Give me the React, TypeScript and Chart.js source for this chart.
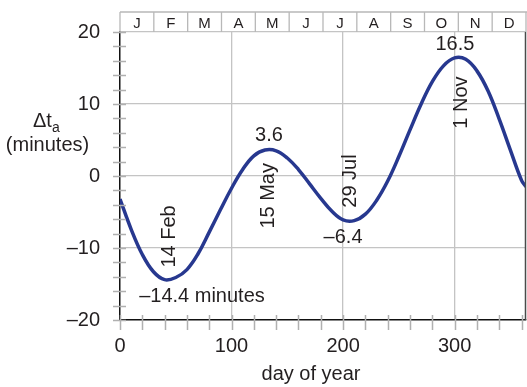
import { useEffect, useRef } from "react";
import { Chart, registerables } from "chart.js";

Chart.register(...registerables);

// ---- data ----
const days = [0, 10, 20, 30, 40, 50, 60, 70, 80, 90, 100, 110, 120, 130, 140, 150, 160, 170, 180, 190, 200, 210, 220, 230, 240, 250, 260, 270, 280, 290, 300, 310, 320, 330, 340, 350, 360, 364];
const deltaT = [-3.2, -7.4, -10.9, -13.3, -14.4, -14.1, -13.0, -10.8, -7.8, -4.7, -1.7, 0.9, 2.8, 3.6, 3.5, 2.5, 0.9, -1.1, -3.1, -4.9, -6.1, -6.2, -5.3, -3.4, -0.7, 2.7, 6.4, 10.0, 13.1, 15.3, 16.4, 16.2, 14.6, 11.8, 7.9, 3.6, -0.6, -1.5];
const months = ["J", "F", "M", "A", "M", "J", "J", "A", "S", "O", "N", "D"];
const xTickValues = [0, 100, 200, 300];
const yTickValues = [-20, -10, 0, 10, 20];
const xMinorTicks = [0, 20, 40, 60, 80, 100, 120, 140, 160, 180, 200, 220, 240, 260, 280, 300, 320, 340, 360];
const yMinorTicks = [-20, -18, -16, -14, -12, -10, -8, -6, -4, -2, 0, 2, 4, 6, 8, 10, 12, 14, 16, 18, 20];
const noteTexts = ["16.5", "1 Nov", "3.6", "15 May", "29 Jul", "–6.4", "14 Feb", "–14.4 minutes"];
const noteDays = [300.3, 304.8, 133.6, 131.8, 205.3, 200, 43, 73.5];
const noteValues = [18.5, 10.2, 5.8, -2.75, -0.7, -8.3, -8.4, -16.55];
const noteRotated = [false, true, false, true, true, false, true, false];

const FONT = "'Liberation Sans', Arial, Helvetica, sans-serif";
const TEXT = "#231f20";
const GRID = "#c4c4c4";
const TICK = "#b0b0b0";
const CURVE = "#27388f";

const dash = (v: number | string) => String(v).replace("-", "–");

const decorPlugin = {
  id: "decor",
  afterDatasetsDraw(chart: any) {
    const ctx = chart.ctx;
    const { left, right, top, bottom } = chart.chartArea;
    const xs = chart.scales.x;
    const ys = chart.scales.y;
    ctx.save();

    // minor ticks crossing axes
    ctx.strokeStyle = TICK;
    ctx.lineWidth = 1.5;
    ctx.beginPath();
    xMinorTicks.forEach((d) => {
      const px = Math.round(xs.getPixelForValue(d)) + 0.5;
      ctx.moveTo(px, bottom - 5);
      ctx.lineTo(px, bottom + 10);
    });
    yMinorTicks.forEach((v) => {
      const py = Math.round(ys.getPixelForValue(v)) + 0.5;
      ctx.moveTo(left - 7, py);
      ctx.lineTo(left + 6, py);
    });
    ctx.stroke();

    // right border
    ctx.strokeStyle = "#4a4a4a";
    ctx.lineWidth = 1.5;
    ctx.beginPath();
    ctx.moveTo(right - 0.5, top);
    ctx.lineTo(right - 0.5, bottom);
    ctx.stroke();

    // month strip
    const stripTop = top - 20;
    ctx.strokeStyle = "#b8b8b8";
    ctx.lineWidth = 1.3;
    ctx.beginPath();
    ctx.moveTo(left, stripTop);
    ctx.lineTo(right + 1, stripTop);
    const w = (right - left) / 12;
    for (let i = 0; i <= 12; i++) {
      const px = left + i * w;
      ctx.moveTo(px, stripTop);
      ctx.lineTo(px, top);
    }
    ctx.stroke();
    ctx.fillStyle = TEXT;
    ctx.font = `15px ${FONT}`;
    ctx.textAlign = "center";
    ctx.textBaseline = "alphabetic";
    months.forEach((m, i) => {
      ctx.fillText(m, left + (i + 0.5) * w, top - 4);
    });

    // annotations
    ctx.font = `20px ${FONT}`;
    noteTexts.forEach((t, i) => {
      const px = xs.getPixelForValue(noteDays[i]);
      const py = ys.getPixelForValue(noteValues[i]);
      ctx.save();
      ctx.translate(px, py);
      if (noteRotated[i]) ctx.rotate(-Math.PI / 2);
      ctx.textAlign = "center";
      ctx.fillText(t, 0, 7.2);
      ctx.restore();
    });

    // y axis title
    ctx.textAlign = "left";
    ctx.font = `20px ${FONT}`;
    ctx.fillText("Δt", left - 87, 127);
    const dtW = ctx.measureText("Δt").width;
    ctx.font = `14px ${FONT}`;
    ctx.fillText("a", left - 87 + dtW, 132);
    ctx.font = `20px ${FONT}`;
    ctx.textAlign = "center";
    ctx.fillText("(minutes)", left - 72.5, 151);

    // x axis title
    ctx.fillText("day of year", (left + right) / 2 - 12, 379.5);

    ctx.restore();
  },
};

export default function App() {
  const canvasRef = useRef<HTMLCanvasElement | null>(null);

  useEffect(() => {
    const canvas = canvasRef.current;
    if (!canvas) return;
    const chart = new Chart(canvas, {
      type: "line",
      data: {
        datasets: [
          {
            data: days.map((d, i) => ({ x: d, y: deltaT[i] })),
            borderColor: CURVE,
            borderWidth: 3.5,
            pointRadius: 0,
            fill: false,
            tension: 0.4,
          },
        ],
      },
      options: {
        responsive: false,
        animation: false,
        devicePixelRatio: 1,
        layout: { padding: { top: 30, right: 1, left: 0, bottom: 0 } },
        plugins: { legend: { display: false }, tooltip: { enabled: false } },
        scales: {
          x: {
            type: "linear",
            min: 0,
            max: 364,
            afterBuildTicks: (s: any) => {
              s.ticks = xTickValues.map((v) => ({ value: v }));
            },
            afterFit: (s: any) => {
              s.height = 67;
            },
            grid: {
              color: (c: any) => (c.tick && c.tick.value === 0 ? "rgba(0,0,0,0)" : GRID),
              lineWidth: 1.3,
              drawTicks: false,
            },
            border: { color: "#111", width: 1.5 },
            ticks: {
              font: { family: FONT, size: 20 },
              color: TEXT,
              padding: 14,
              maxRotation: 0,
              autoSkip: false,
              callback: (v: any) => dash(v),
            },
          },
          y: {
            type: "linear",
            min: -20,
            max: 20,
            afterBuildTicks: (s: any) => {
              s.ticks = yTickValues.map((v) => ({ value: v }));
            },
            afterFit: (s: any) => {
              s.width = 120;
            },
            grid: {
              color: (c: any) => (c.tick && c.tick.value === -20 ? "rgba(0,0,0,0)" : GRID),
              lineWidth: 1.3,
              drawTicks: false,
            },
            border: { color: "#111", width: 1.5 },
            ticks: {
              font: { family: FONT, size: 20 },
              color: TEXT,
              padding: 20,
              autoSkip: false,
              callback: (v: any) => dash(v),
            },
          },
        },
      },
      plugins: [decorPlugin],
    } as any);
    return () => chart.destroy();
  }, []);

  return (
    <div style={{ position: "fixed", left: 0, top: 0, width: 527, height: 387, background: "#fff" }}>
      <canvas ref={canvasRef} width={527} height={387} style={{ display: "block", width: 527, height: 387 }} />
    </div>
  );
}
